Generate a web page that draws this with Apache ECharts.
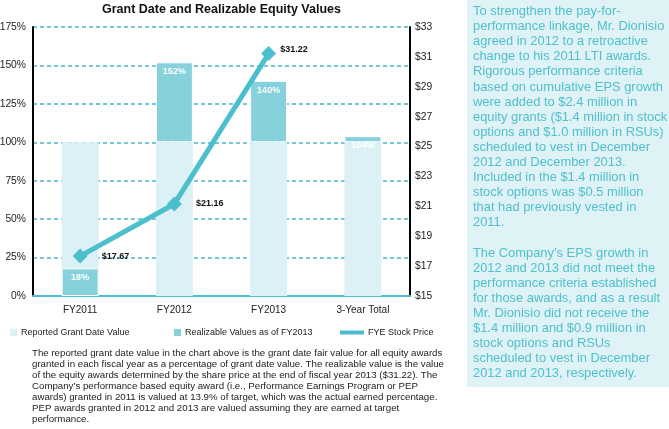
<!DOCTYPE html>
<html>
<head>
<meta charset="utf-8">
<script src="https://cdn.jsdelivr.net/npm/echarts@6/dist/echarts.min.js"></script>
<style>
html,body{margin:0;padding:0;background:#fff;}
#chart{width:669px;height:429px;}
</style>
</head>
<body>
<div id="chart"></div>
<script>
var categories = ['FY2011', 'FY2012', 'FY2013', '3-Year Total'];
var reportedValues = [100, 100, 100, 100];
var realizableValues = [18, 152, 140, 104];
var stockPrices = [17.67, 21.16, 31.22, '-'];
var leftTicks = {min: 0, max: 175, interval: 25};
var rightTicks = {min: 15, max: 33, interval: 2};

var titleText = 'Grant Date and Realizable Equity Values';
var noteLines = [
  'The reported grant date value in the chart above is the grant date fair value for all equity awards',
  'granted in each fiscal year as a percentage of grant date value. The realizable value is the value',
  'of the equity awards determined by the share price at the end of fiscal year 2013 ($31.22). The',
  'Company\u2019s performance based equity award (i.e., Performance Earnings Program or PEP',
  'awards) granted in 2011 is valued at 13.9% of target, which was the actual earned percentage.',
  'PEP awards granted in 2012 and 2013 are valued assuming they are earned at target',
  'performance.'
];
var sideLines = [
  'To strengthen the pay-for-',
  'performance linkage, Mr. Dionisio',
  'agreed in 2012 to a retroactive',
  'change to his 2011 LTI awards.',
  'Rigorous performance criteria',
  'based on cumulative EPS growth',
  'were added to $2.4 million in',
  'equity grants ($1.4 million in stock',
  'options and $1.0 million in RSUs)',
  'scheduled to vest in December',
  '2012 and December 2013.',
  'Included in the $1.4 million in',
  'stock options was $0.5 million',
  'that had previously vested in',
  '2011.',
  '',
  'The Company\u2019s EPS growth in',
  '2012 and 2013 did not meet the',
  'performance criteria established',
  'for those awards, and as a result',
  'Mr. Dionisio did not receive the',
  '$1.4 million and $0.9 million in',
  'stock options and RSUs',
  'scheduled to vest in December',
  '2012 and 2013, respectively.'
];

var FONT = '"Liberation Sans", Arial, Helvetica, sans-serif';
var LIGHT = '#dcf1f5';
var DARK = '#86d1dc';
var TEAL = '#4cbfcd';

var chart = echarts.init(document.getElementById('chart'));

var offsetData = realizableValues.map(function (v, i) { return v > reportedValues[i] ? reportedValues[i] : 0; });
var visibleRealizable = realizableValues.map(function (v, i) { return v > reportedValues[i] ? v - reportedValues[i] : v; });

var priceLabelStyles = [
  {distance: 14, offset: [0, 0]},
  {distance: 14, offset: [0, 0]},
  {distance: 4, offset: [0, -4]},
  {distance: 10, offset: [0, 0]}
];

var legendText = {fontSize: 9, color: '#222', fontFamily: FONT, padding: [0, 0, 0, -1]};

var option = {
  animation: false,
  textStyle: {fontFamily: FONT},
  title: {
    text: titleText,
    left: 102, top: 3, padding: 0,
    textStyle: {fontSize: 12.5, fontWeight: 'bold', color: '#111', fontFamily: FONT}
  },
  grid: {left: 33, right: 259, top: 27, bottom: 133, containLabel: false, outerBoundsMode: 'none'},
  legend: [
    {data: ['Reported Grant Date Value'], left: 5, top: 323, itemWidth: 7, itemHeight: 7, icon: 'rect',
     itemStyle: {borderWidth: 0}, textStyle: legendText},
    {data: ['Realizable Values as of FY2013'], left: 169, top: 323, itemWidth: 7, itemHeight: 7, icon: 'rect',
     itemStyle: {borderWidth: 0}, textStyle: legendText},
    {data: ['FYE Stock Price'], left: 335, top: 323, itemWidth: 24, itemHeight: 4, icon: 'rect',
     itemStyle: {borderWidth: 0}, textStyle: legendText}
  ],
  xAxis: {
    type: 'category',
    data: categories,
    axisLine: {lineStyle: {color: TEAL, width: 2}},
    axisTick: {show: false},
    axisLabel: {color: '#222', fontSize: 10, margin: 9, fontFamily: FONT}
  },
  yAxis: [
    {
      type: 'value', min: leftTicks.min, max: leftTicks.max, interval: leftTicks.interval,
      axisLine: {show: true, lineStyle: {color: '#000', width: 2}},
      axisTick: {show: false},
      axisLabel: {formatter: '{value}%', color: '#222', fontSize: 10.3, margin: 7, fontFamily: FONT},
      splitLine: {show: true, lineStyle: {color: '#4ab7c6', width: 1.5, type: [4, 3]}}
    },
    {
      type: 'value', min: rightTicks.min, max: rightTicks.max, interval: rightTicks.interval,
      position: 'right',
      axisLine: {show: true, lineStyle: {color: '#000', width: 2}},
      axisTick: {show: false},
      axisLabel: {formatter: '${value}', color: '#222', fontSize: 10.3, margin: 5, fontFamily: FONT},
      splitLine: {show: false}
    }
  ],
  series: [
    {
      name: 'Reported Grant Date Value',
      type: 'bar',
      data: reportedValues,
      barWidth: 37,
      barGap: '-100%',
      itemStyle: {color: LIGHT}
    },
    {
      name: 'offset',
      type: 'bar',
      stack: 'real',
      data: offsetData,
      barWidth: 37,
      barGap: '-100%',
      silent: true,
      itemStyle: {color: 'rgba(0,0,0,0)'}
    },
    {
      name: 'Realizable Values as of FY2013',
      type: 'bar',
      stack: 'real',
      data: visibleRealizable,
      barWidth: 37,
      barGap: '-100%',
      itemStyle: {color: DARK, borderColor: '#ffffff', borderWidth: 1},
      label: {
        show: true, position: 'insideTop', distance: 5,
        color: '#fff', fontSize: 9, fontWeight: 'bold', fontFamily: FONT,
        formatter: function (p) { return realizableValues[p.dataIndex] + '%'; }
      }
    },
    {
      name: 'FYE Stock Price',
      type: 'line',
      yAxisIndex: 1,
      data: stockPrices.map(function (v, i) {
        return {value: v, label: priceLabelStyles[i]};
      }),
      symbol: 'diamond',
      symbolSize: 15,
      lineStyle: {color: TEAL, width: 5},
      itemStyle: {color: TEAL},
      z: 5,
      label: {
        show: true, position: 'right',
        color: '#111', fontSize: 9, fontWeight: 'bold', fontFamily: FONT,
        formatter: function (p) { return '$' + Number(p.value).toFixed(2); }
      }
    }
  ],
  graphic: [
    {
      type: 'rect', left: 467, top: 0, z: -1,
      shape: {width: 202, height: 387},
      style: {fill: '#dff2f5'}
    },
    {
      type: 'text', left: 473, top: 4,
      style: {
        text: sideLines.join('\n'),
        font: '12.9px ' + FONT,
        lineHeight: 15.1,
        fill: '#4fc0cd'
      }
    },
    {
      type: 'text', left: 32, top: 348,
      style: {
        text: noteLines.join('\n'),
        font: '9.7px ' + FONT,
        lineHeight: 11,
        fill: '#222'
      }
    }
  ]
};
chart.setOption(option);
</script>
</body>
</html>
